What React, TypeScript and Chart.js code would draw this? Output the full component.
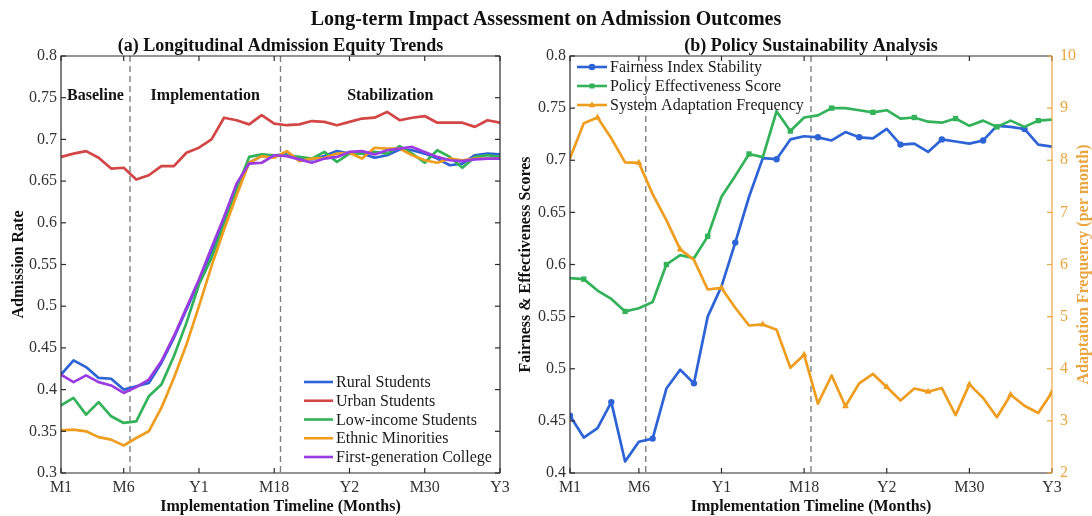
import React, { useEffect, useRef } from 'react';
import { Chart, registerables } from 'chart.js';

Chart.register(...registerables);

const SERIF = "'Liberation Serif', 'Times New Roman', Times, serif";
const AXIS_COLOR = '#2b2b2b';
const TICK_TEXT = '#333333';
const TITLE_TEXT = '#111111';
const DASH_COLOR = '#7f7f7f';
const FREQ_AXIS_COLOR = '#E9A640';

const MAIN_TITLE = 'Long-term Impact Assessment on Admission Outcomes';
const PANEL_A_TITLE = '(a) Longitudinal Admission Equity Trends';
const PANEL_B_TITLE = '(b) Policy Sustainability Analysis';
const X_TITLE = 'Implementation Timeline (Months)';
const RATE_TITLE = 'Admission Rate';
const SCORE_TITLE = 'Fairness & Effectiveness Scores';
const FREQ_TITLE = 'Adaptation Frequency (per month)';

// Timeline (month index) and its labelled ticks
const months = [
  1, 2, 3, 4, 5, 6, 7, 8, 9, 10, 11, 12, 13, 14, 15, 16, 17, 18,
  19, 20, 21, 22, 23, 24, 25, 26, 27, 28, 29, 30, 31, 32, 33, 34, 35, 36,
];
const monthTicks = [1, 6, 12, 18, 24, 30, 36];
const monthTickLabels = ['M1', 'M6', 'Y1', 'M18', 'Y2', 'M30', 'Y3'];
const phaseBoundaries = [6.5, 18.5];
const phaseNames = ['Baseline', 'Implementation', 'Stabilization'];

const rateTicks = [0.3, 0.35, 0.4, 0.45, 0.5, 0.55, 0.6, 0.65, 0.7, 0.75, 0.8];
const scoreTicks = [0.4, 0.45, 0.5, 0.55, 0.6, 0.65, 0.7, 0.75, 0.8];
const freqTicks = [2, 3, 4, 5, 6, 7, 8, 9, 10];

// (a) admission rate by student group
const ruralStudents = [
  0.418, 0.435, 0.427, 0.414, 0.413, 0.400, 0.404, 0.408, 0.432, 0.462, 0.496, 0.530,
  0.566, 0.603, 0.645, 0.672, 0.680, 0.681, 0.682, 0.677, 0.676, 0.680, 0.686, 0.683,
  0.683, 0.678, 0.681, 0.688, 0.687, 0.683, 0.677, 0.669, 0.671, 0.681, 0.683, 0.682,
];
const urbanStudents = [
  0.679, 0.683, 0.686, 0.678, 0.665, 0.666, 0.652, 0.657, 0.668, 0.668, 0.684, 0.690,
  0.700, 0.726, 0.723, 0.718, 0.729, 0.719, 0.717, 0.718, 0.722, 0.721, 0.717, 0.721,
  0.725, 0.726, 0.733, 0.723, 0.726, 0.728, 0.720, 0.720, 0.720, 0.715, 0.723, 0.720,
];
const lowIncomeStudents = [
  0.381, 0.390, 0.370, 0.385, 0.368, 0.360, 0.362, 0.392, 0.406, 0.440, 0.480, 0.526,
  0.558, 0.598, 0.640, 0.679, 0.682, 0.681, 0.681, 0.679, 0.677, 0.685, 0.673, 0.683,
  0.683, 0.685, 0.683, 0.692, 0.683, 0.672, 0.687, 0.679, 0.666, 0.679, 0.681, 0.679,
];
const ethnicMinorities = [
  0.351, 0.352, 0.350, 0.343, 0.340, 0.333, 0.342, 0.350, 0.378, 0.414, 0.454, 0.500,
  0.548, 0.592, 0.633, 0.672, 0.680, 0.678, 0.686, 0.674, 0.677, 0.678, 0.683, 0.684,
  0.677, 0.690, 0.689, 0.689, 0.681, 0.675, 0.672, 0.677, 0.675, 0.677, 0.677, 0.677,
];
const firstGenCollege = [
  0.418, 0.409, 0.417, 0.409, 0.405, 0.396, 0.403, 0.412, 0.434, 0.464, 0.498, 0.532,
  0.570, 0.607, 0.647, 0.671, 0.672, 0.681, 0.680, 0.676, 0.672, 0.677, 0.679, 0.685,
  0.686, 0.682, 0.687, 0.689, 0.691, 0.685, 0.679, 0.675, 0.674, 0.676, 0.677, 0.677,
];

// (b) policy sustainability indicators
const fairnessStability = [
  0.455, 0.434, 0.443, 0.468, 0.411, 0.430, 0.433, 0.481, 0.499, 0.486, 0.550, 0.579,
  0.621, 0.665, 0.702, 0.701, 0.720, 0.723, 0.722, 0.719, 0.727, 0.722, 0.721, 0.730,
  0.715, 0.716, 0.708, 0.720, 0.718, 0.716, 0.719, 0.733, 0.732, 0.730, 0.715, 0.713,
];
const policyEffectiveness = [
  0.587, 0.586, 0.575, 0.567, 0.555, 0.558, 0.564, 0.600, 0.609, 0.606, 0.627, 0.665,
  0.685, 0.706, 0.703, 0.747, 0.728, 0.741, 0.743, 0.750, 0.750, 0.748, 0.746, 0.748,
  0.740, 0.741, 0.737, 0.736, 0.740, 0.733, 0.738, 0.732, 0.738, 0.732, 0.738, 0.739,
];
const adaptationFrequency = [
  8.04, 8.71, 8.82, 8.42, 7.96, 7.95, 7.35, 6.85, 6.29, 6.09, 5.52, 5.55,
  5.17, 4.83, 4.85, 4.75, 4.02, 4.27, 3.33, 3.87, 3.28, 3.72, 3.90, 3.65,
  3.39, 3.62, 3.56, 3.63, 3.11, 3.70, 3.44, 3.07, 3.50, 3.29, 3.15, 3.55,
];

const BLUE = '#2E63D6';
const RED = '#D34646';
const GREEN = '#33B25A';
const ORANGE = '#EE9D1F';
const PURPLE = '#9B3BE2';

const toPoints = (values: number[]) => months.map((m, i) => ({ x: m, y: values[i] }));

function strokeLine(ctx: CanvasRenderingContext2D, x1: number, y1: number, x2: number, y2: number) {
  ctx.beginPath();
  ctx.moveTo(x1, y1);
  ctx.lineTo(x2, y2);
  ctx.stroke();
}

function drawMarker(ctx: CanvasRenderingContext2D, style: string, x: number, y: number, r: number, color: string) {
  ctx.fillStyle = color;
  ctx.beginPath();
  if (style === 'circle') {
    ctx.arc(x, y, r, 0, Math.PI * 2);
  } else if (style === 'rect') {
    ctx.rect(x - r * 0.75, y - r * 0.75, r * 1.5, r * 1.5);
  } else if (style === 'triangle') {
    ctx.moveTo(x, y - r * 1.1);
    ctx.lineTo(x + r, y + r * 0.7);
    ctx.lineTo(x - r, y + r * 0.7);
    ctx.closePath();
  }
  ctx.fill();
}

function xScaleOptions(): any {
  return {
    type: 'linear',
    min: 1,
    max: 36,
    afterBuildTicks: (s: any) => {
      s.ticks = monthTicks.map((v) => ({ value: v }));
    },
    afterFit: (s: any) => {
      s.height = 43;
    },
    grid: { display: false, drawTicks: false },
    border: { display: false },
    ticks: {
      color: TICK_TEXT,
      font: { family: SERIF, size: 16 },
      padding: 5,
      maxRotation: 0,
      autoSkip: false,
      callback: (v: number) => {
        const i = monthTicks.indexOf(v);
        return i >= 0 ? monthTickLabels[i] : '';
      },
    },
    title: {
      display: true,
      text: X_TITLE,
      color: TITLE_TEXT,
      font: { family: SERIF, size: 16, weight: 'bold' },
      padding: { top: 0, bottom: 0 },
    },
  };
}

function valueAxis(min: number, max: number, ticks: number[], width: number, extra: any): any {
  return {
    type: 'linear',
    min,
    max,
    afterBuildTicks: (s: any) => {
      s.ticks = ticks.map((v) => ({ value: v }));
    },
    afterFit: (s: any) => {
      s.width = width;
    },
    grid: { display: false, drawTicks: false },
    border: { display: false },
    ...extra,
  };
}

// Box, inward tick marks on all four sides
function drawFrame(chart: any, rightTicks: number[], rightScaleId: string, rightColor: string) {
  const { ctx, chartArea: a, scales } = chart;
  const tl = 5;
  ctx.save();
  ctx.lineWidth = 1.2;
  ctx.strokeStyle = AXIS_COLOR;
  ctx.beginPath();
  ctx.moveTo(a.right, a.top);
  ctx.lineTo(a.left, a.top);
  ctx.lineTo(a.left, a.bottom);
  ctx.lineTo(a.right, a.bottom);
  ctx.stroke();
  for (const v of monthTicks) {
    const x = scales.x.getPixelForValue(v);
    strokeLine(ctx, x, a.bottom, x, a.bottom - tl);
    strokeLine(ctx, x, a.top, x, a.top + tl);
  }
  for (const t of scales.y.ticks) {
    const y = scales.y.getPixelForValue(t.value);
    strokeLine(ctx, a.left, y, a.left + tl, y);
  }
  ctx.strokeStyle = rightColor;
  strokeLine(ctx, a.right, a.top, a.right, a.bottom);
  const rs = scales[rightScaleId];
  for (const v of rightTicks) {
    const y = rs.getPixelForValue(v);
    strokeLine(ctx, a.right, y, a.right - tl, y);
  }
  ctx.restore();
}

// Dashed phase dividers
function drawDividers(chart: any) {
  const { ctx, chartArea: a, scales } = chart;
  ctx.save();
  ctx.strokeStyle = DASH_COLOR;
  ctx.lineWidth = 1.4;
  ctx.setLineDash([6, 4]);
  for (const b of phaseBoundaries) {
    const x = scales.x.getPixelForValue(b);
    strokeLine(ctx, x, a.top, x, a.bottom);
  }
  ctx.restore();
}

function drawPanelTitle(chart: any, text: string) {
  const { ctx, chartArea: a } = chart;
  ctx.save();
  ctx.fillStyle = TITLE_TEXT;
  ctx.font = `bold 18px ${SERIF}`;
  ctx.textAlign = 'center';
  ctx.textBaseline = 'middle';
  ctx.fillText(text, (a.left + a.right) / 2, a.top - 10);
  ctx.restore();
}

function drawLegend(chart: any, x0: number, y0: number, step: number, len: number) {
  const { ctx } = chart;
  ctx.save();
  ctx.font = `16px ${SERIF}`;
  ctx.textBaseline = 'middle';
  ctx.textAlign = 'left';
  chart.data.datasets.forEach((ds: any, i: number) => {
    const y = y0 + i * step;
    ctx.strokeStyle = ds.borderColor;
    ctx.lineWidth = 2.6;
    strokeLine(ctx, x0, y, x0 + len, y);
    if (ds.legendMarker) drawMarker(ctx, ds.legendMarker, x0 + len / 2, y, 3.3, ds.borderColor);
    ctx.fillStyle = '#1a1a1a';
    ctx.fillText(ds.label, x0 + len + 3, y + 1);
  });
  ctx.restore();
}

const baseOptions = {
  animation: false as const,
  responsive: false,
  maintainAspectRatio: false,
  events: [] as any[],
  elements: {
    line: { tension: 0, borderWidth: 2.7, borderJoinStyle: 'round' as const, borderCapStyle: 'round' as const },
    point: { radius: 0 },
  },
};

function admissionConfig(): any {
  const groups = [
    { label: 'Rural Students', values: ruralStudents, color: BLUE },
    { label: 'Urban Students', values: urbanStudents, color: RED },
    { label: 'Low-income Students', values: lowIncomeStudents, color: GREEN },
    { label: 'Ethnic Minorities', values: ethnicMinorities, color: ORANGE },
    { label: 'First-generation College', values: firstGenCollege, color: PURPLE },
  ];
  const decor = {
    id: 'admissionDecor',
    beforeDatasetsDraw(chart: any) {
      drawDividers(chart);
      const { ctx, scales } = chart;
      const edges = [1, ...phaseBoundaries, 36];
      ctx.save();
      ctx.fillStyle = TITLE_TEXT;
      ctx.font = `bold 16px ${SERIF}`;
      ctx.textAlign = 'center';
      ctx.textBaseline = 'middle';
      phaseNames.forEach((name, i) => {
        const x = scales.x.getPixelForValue((edges[i] + edges[i + 1]) / 2);
        ctx.fillText(name, x, scales.y.getPixelForValue(0.752));
      });
      ctx.restore();
    },
    afterDraw(chart: any) {
      drawFrame(chart, rateTicks, 'y', AXIS_COLOR);
      drawPanelTitle(chart, PANEL_A_TITLE);
      const a = chart.chartArea;
      drawLegend(chart, a.right - 196, a.bottom - 91, 18.75, 29);
    },
  };
  return {
    type: 'line',
    data: {
      datasets: groups.map((g, i) => ({
        label: g.label,
        data: toPoints(g.values),
        borderColor: g.color,
        backgroundColor: g.color,
        order: groups.length - i,
      })),
    },
    options: {
      ...baseOptions,
      layout: { padding: { top: 56, left: 0, right: 46, bottom: 0 } },
      plugins: { legend: { display: false }, tooltip: { enabled: false }, title: { display: false } },
      scales: {
        x: xScaleOptions(),
        y: valueAxis(0.3, 0.8, rateTicks, 61, {
          ticks: { color: TICK_TEXT, font: { family: SERIF, size: 16 }, padding: 4, callback: (v: number) => String(v) },
          title: {
            display: true,
            text: RATE_TITLE,
            color: TITLE_TEXT,
            font: { family: SERIF, size: 16, weight: 'bold' },
            padding: { top: 9, bottom: 0 },
          },
        }),
      },
    },
    plugins: [decor],
  };
}

function sustainabilityConfig(): any {
  const markerEvery = (offset: number, r: number) => (c: any) => (c.dataIndex % 3 === offset ? r : 0);
  const decor = {
    id: 'sustainabilityDecor',
    beforeDatasetsDraw(chart: any) {
      drawDividers(chart);
    },
    afterDraw(chart: any) {
      drawFrame(chart, freqTicks, 'y1', FREQ_AXIS_COLOR);
      drawPanelTitle(chart, PANEL_B_TITLE);
      const a = chart.chartArea;
      drawLegend(chart, a.left + 7, a.top + 11, 19, 30);
      const { ctx } = chart;
      ctx.save();
      ctx.translate(a.right + 36, (a.top + a.bottom) / 2);
      ctx.rotate(-Math.PI / 2);
      ctx.fillStyle = FREQ_AXIS_COLOR;
      ctx.font = `bold 16px ${SERIF}`;
      ctx.textAlign = 'center';
      ctx.textBaseline = 'alphabetic';
      ctx.fillText(FREQ_TITLE, 0, 0);
      ctx.restore();
    },
  };
  return {
    type: 'line',
    data: {
      datasets: [
        {
          label: 'Fairness Index Stability',
          data: toPoints(fairnessStability),
          borderColor: BLUE,
          backgroundColor: BLUE,
          pointBackgroundColor: BLUE,
          pointBorderWidth: 0,
          pointStyle: 'circle',
          pointRadius: markerEvery(0, 3.2),
          legendMarker: 'circle',
          yAxisID: 'y',
          order: 3,
        },
        {
          label: 'Policy Effectiveness Score',
          data: toPoints(policyEffectiveness),
          borderColor: GREEN,
          backgroundColor: GREEN,
          pointBackgroundColor: GREEN,
          pointBorderWidth: 0,
          pointStyle: 'rect',
          pointRadius: markerEvery(1, 3.8),
          legendMarker: 'rect',
          yAxisID: 'y',
          order: 2,
        },
        {
          label: 'System Adaptation Frequency',
          data: toPoints(adaptationFrequency),
          borderColor: ORANGE,
          backgroundColor: ORANGE,
          pointBackgroundColor: ORANGE,
          pointBorderWidth: 0,
          pointStyle: 'triangle',
          pointRadius: markerEvery(2, 4),
          legendMarker: 'triangle',
          yAxisID: 'y1',
          order: 1,
        },
      ],
    },
    options: {
      ...baseOptions,
      layout: { padding: { top: 56, left: 0, right: 0, bottom: 0 } },
      plugins: { legend: { display: false }, tooltip: { enabled: false }, title: { display: false } },
      scales: {
        x: xScaleOptions(),
        y: valueAxis(0.4, 0.8, scoreTicks, 65, {
          position: 'left',
          ticks: { color: TICK_TEXT, font: { family: SERIF, size: 16 }, padding: 4, callback: (v: number) => String(v) },
          title: {
            display: true,
            text: SCORE_TITLE,
            color: TITLE_TEXT,
            font: { family: SERIF, size: 16, weight: 'bold' },
            padding: { top: 11, bottom: 0 },
          },
        }),
        y1: valueAxis(2, 10, freqTicks, 40, {
          position: 'right',
          ticks: { color: FREQ_AXIS_COLOR, font: { family: SERIF, size: 16 }, padding: 8, callback: (v: number) => String(v) },
          title: { display: false },
        }),
      },
    },
    plugins: [decor],
  };
}

export default function App() {
  const leftRef = useRef<HTMLCanvasElement>(null);
  const rightRef = useRef<HTMLCanvasElement>(null);

  useEffect(() => {
    const left = new Chart(leftRef.current as HTMLCanvasElement, admissionConfig());
    const right = new Chart(rightRef.current as HTMLCanvasElement, sustainabilityConfig());
    return () => {
      left.destroy();
      right.destroy();
    };
  }, []);

  return (
    <div style={{ position: 'absolute', left: 0, top: 0, width: 1092, height: 516, background: '#ffffff', overflow: 'hidden' }}>
      <canvas ref={leftRef} width={546} height={516} style={{ position: 'absolute', left: 0, top: 0, width: 546, height: 516 }} />
      <canvas ref={rightRef} width={587} height={516} style={{ position: 'absolute', left: 505, top: 0, width: 587, height: 516 }} />
      <div
        style={{
          position: 'absolute',
          left: 0,
          top: 7,
          width: 1092,
          textAlign: 'center',
          fontFamily: SERIF,
          fontWeight: 'bold',
          fontSize: 20,
          lineHeight: '22px',
          color: TITLE_TEXT,
        }}
      >
        {MAIN_TITLE}
      </div>
    </div>
  );
}
